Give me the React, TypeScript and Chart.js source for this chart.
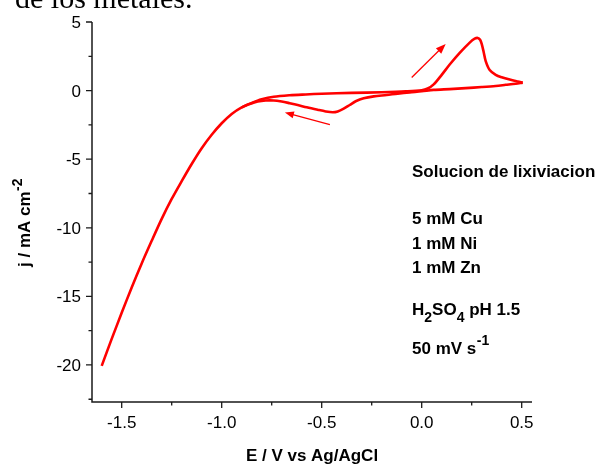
import React, { useEffect, useRef } from "react";
import { Chart, registerables } from "chart.js";

Chart.register(...registerables);

// Forward sweep (from -1.6 V towards +0.5 V)
const forwardE = [
  -1.6, -1.55, -1.5, -1.45, -1.4, -1.35, -1.3, -1.25, -1.2, -1.15, -1.1, -1.05, -1.0, -0.95, -0.9,
  -0.85, -0.8, -0.74, -0.66, -0.58, -0.5, -0.35, -0.2, -0.08, 0.0, 0.03, 0.06, 0.1, 0.14, 0.19, 0.24,
  0.265, 0.28, 0.292, 0.3, 0.31, 0.32, 0.34, 0.37, 0.4, 0.44, 0.48, 0.505,
];
const forwardJ = [
  -20.07, -18.1, -16.2, -14.35, -12.6, -10.95, -9.35, -7.9, -6.6, -5.35, -4.2, -3.22, -2.38, -1.7, -1.22,
  -0.9, -0.64, -0.45, -0.34, -0.28, -0.23, -0.17, -0.12, -0.06, 0.02, 0.15, 0.45, 1.15, 1.9, 2.75, 3.5,
  3.78, 3.84, 3.7, 3.4, 2.8, 2.15, 1.5, 1.15, 0.97, 0.8, 0.66, 0.58,
];
// Reverse sweep (from +0.5 V back towards negative potentials)
const reverseE = [
  0.505, 0.47, 0.42, 0.37, 0.3, 0.22, 0.14, 0.06, 0.0, -0.06, -0.12, -0.175, -0.24, -0.29, -0.33, -0.36,
  -0.39, -0.42, -0.445, -0.48, -0.52, -0.575, -0.62, -0.66, -0.7, -0.74, -0.78, -0.82, -0.86, -0.9,
];
const reverseJ = [
  0.58, 0.5, 0.42, 0.34, 0.26, 0.18, 0.11, 0.05, -0.05, -0.13, -0.22, -0.32, -0.42, -0.56, -0.78, -1.05,
  -1.32, -1.52, -1.58, -1.52, -1.4, -1.22, -1.05, -0.92, -0.8, -0.72, -0.72, -0.8, -0.98, -1.22,
];

const xMajor = [-1.5, -1.0, -0.5, 0.0, 0.5];
const xMajorLabels = ["-1.5", "-1.0", "-0.5", "0.0", "0.5"];
const xMinor = [-1.25, -0.75, -0.25, 0.25];
const yMajor = [5, 0, -5, -10, -15, -20];
const yMajorLabels = ["5", "0", "-5", "-10", "-15", "-20"];
const yMinor = [2.5, -2.5, -7.5, -12.5, -17.5, -22.5];

// Sweep direction arrows: [tailE, tailJ, headE, headJ]
const arrowUp = [-0.05, 0.96, 0.12, 3.4];
const arrowDown = [-0.459, -2.48, -0.684, -1.6];

const annotationLines = ["Solucion de lixiviacion", "5 mM Cu", "1 mM Ni", "1 mM Zn"];

const RED = "#ff0000";
const AXIS = "#1a1a1a";
const SANS = '"Liberation Sans", Arial, sans-serif';

const overlay = {
  id: "overlay",
  afterDraw(chart: any) {
    const ctx: CanvasRenderingContext2D = chart.ctx;
    const xs = chart.scales.x;
    const ys = chart.scales.y;
    const { left, right, top, bottom } = chart.chartArea;
    ctx.save();

    // Axis lines
    ctx.strokeStyle = AXIS;
    ctx.lineWidth = 1.5;
    ctx.beginPath();
    ctx.moveTo(left, top);
    ctx.lineTo(left, bottom);
    ctx.lineTo(right, bottom);
    ctx.stroke();

    // Ticks
    ctx.lineWidth = 1.3;
    ctx.beginPath();
    xMajor.forEach((v) => {
      const x = xs.getPixelForValue(v);
      ctx.moveTo(x, bottom);
      ctx.lineTo(x, bottom + 6);
    });
    xMinor.forEach((v) => {
      const x = xs.getPixelForValue(v);
      ctx.moveTo(x, bottom);
      ctx.lineTo(x, bottom + 3.5);
    });
    yMajor.forEach((v) => {
      const y = ys.getPixelForValue(v);
      ctx.moveTo(left, y);
      ctx.lineTo(left - 6, y);
    });
    yMinor.forEach((v) => {
      const y = ys.getPixelForValue(v);
      ctx.moveTo(left, y);
      ctx.lineTo(left - 3.5, y);
    });
    ctx.stroke();

    // Tick labels
    ctx.fillStyle = "#000";
    ctx.font = `17px ${SANS}`;
    ctx.textBaseline = "alphabetic";
    ctx.textAlign = "center";
    xMajor.forEach((v, i) => {
      ctx.fillText(xMajorLabels[i], xs.getPixelForValue(v), bottom + 26);
    });
    ctx.textAlign = "right";
    yMajor.forEach((v, i) => {
      ctx.fillText(yMajorLabels[i], left - 11, ys.getPixelForValue(v) + 6);
    });

    // X title
    ctx.font = `bold 17px ${SANS}`;
    ctx.textAlign = "center";
    ctx.fillText("E / V vs Ag/AgCl", (left + right) / 2, 461);

    // Y title (rotated)
    ctx.save();
    ctx.translate(30, 267);
    ctx.rotate(-Math.PI / 2);
    ctx.textAlign = "left";
    ctx.font = `bold 17px ${SANS}`;
    const main = "j / mA cm";
    ctx.fillText(main, 0, 0);
    const w = ctx.measureText(main).width;
    ctx.font = `bold 14px ${SANS}`;
    ctx.fillText("-2", w + 0.5, -8);
    ctx.restore();

    // Annotation block
    const ax = 412;
    ctx.textAlign = "left";
    ctx.font = `bold 17px ${SANS}`;
    ctx.fillText(annotationLines[0], ax, 177);
    ctx.fillText(annotationLines[1], ax, 224);
    ctx.fillText(annotationLines[2], ax, 248.5);
    ctx.fillText(annotationLines[3], ax, 272.5);

    // H2SO4 pH 1.5
    let cx = ax;
    const bl = 315;
    const seg = (t: string, size: number, dy: number) => {
      ctx.font = `bold ${size}px ${SANS}`;
      ctx.fillText(t, cx, bl + dy);
      cx += ctx.measureText(t).width;
    };
    seg("H", 17, 0);
    seg("2", 14, 7);
    seg("SO", 17, 0);
    seg("4", 14, 7);
    seg(" pH 1.5", 17, 0);

    // 50 mV s-1
    ctx.font = `bold 17px ${SANS}`;
    ctx.fillText("50 mV s", ax, 354);
    const w2 = ctx.measureText("50 mV s").width;
    ctx.font = `bold 14px ${SANS}`;
    ctx.fillText("-1", ax + w2 + 0.5, 345);

    // Arrows
    const drawArrow = (a: number[], head: number) => {
      const x1 = xs.getPixelForValue(a[0]);
      const y1 = ys.getPixelForValue(a[1]);
      const x2 = xs.getPixelForValue(a[2]);
      const y2 = ys.getPixelForValue(a[3]);
      const ang = Math.atan2(y2 - y1, x2 - x1);
      ctx.strokeStyle = RED;
      ctx.fillStyle = RED;
      ctx.lineWidth = 1.3;
      ctx.beginPath();
      ctx.moveTo(x1, y1);
      ctx.lineTo(x2 - Math.cos(ang) * head * 0.8, y2 - Math.sin(ang) * head * 0.8);
      ctx.stroke();
      ctx.beginPath();
      ctx.moveTo(x2, y2);
      ctx.lineTo(
        x2 - Math.cos(ang) * head + Math.cos(ang + Math.PI / 2) * head * 0.38,
        y2 - Math.sin(ang) * head + Math.sin(ang + Math.PI / 2) * head * 0.38
      );
      ctx.lineTo(
        x2 - Math.cos(ang) * head - Math.cos(ang + Math.PI / 2) * head * 0.38,
        y2 - Math.sin(ang) * head - Math.sin(ang + Math.PI / 2) * head * 0.38
      );
      ctx.closePath();
      ctx.fill();
    };
    drawArrow(arrowUp, 10);
    drawArrow(arrowDown, 9);

    // Cropped text from the surrounding page
    ctx.fillStyle = "#000";
    ctx.font = `30px "Liberation Serif", "Times New Roman", serif`;
    ctx.textAlign = "left";
    ctx.fillText("de los metales.", 15, 8);

    ctx.restore();
  },
};

export default function App() {
  const ref = useRef<HTMLCanvasElement | null>(null);
  useEffect(() => {
    if (!ref.current) return;
    const toPts = (xsArr: number[], ysArr: number[]) => xsArr.map((x, i) => ({ x, y: ysArr[i] }));
    const chart = new Chart(ref.current, {
      type: "scatter",
      data: {
        datasets: [
          {
            data: toPts(forwardE, forwardJ),
            showLine: true,
            borderColor: RED,
            backgroundColor: RED,
            borderWidth: 2.6,
            pointRadius: 0,
            tension: 0.3,
          },
          {
            data: toPts(reverseE, reverseJ),
            showLine: true,
            borderColor: RED,
            backgroundColor: RED,
            borderWidth: 2.6,
            pointRadius: 0,
            tension: 0.3,
          },
        ],
      },
      options: {
        responsive: false,
        animation: false,
        devicePixelRatio: 1,
        layout: { padding: { left: 92, right: 70, top: 22, bottom: 62 } },
        plugins: { legend: { display: false }, tooltip: { enabled: false } },
        scales: {
          x: { type: "linear", min: -1.6485, max: 0.5515, display: false },
          y: { type: "linear", min: -22.7, max: 5, display: false },
        },
      },
      plugins: [overlay],
    });
    return () => chart.destroy();
  }, []);
  return (
    <canvas
      ref={ref}
      width={602}
      height={464}
      style={{ position: "fixed", left: 0, top: 0, width: 602, height: 464, background: "#fff" }}
    />
  );
}
